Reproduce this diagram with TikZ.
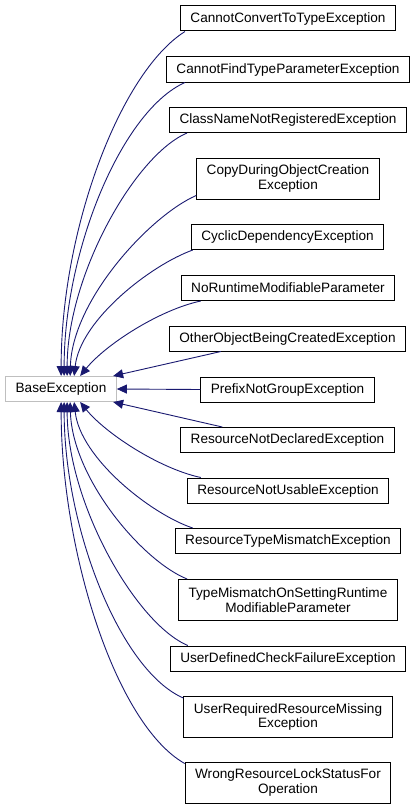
\documentclass[tikz,border=0pt]{standalone}
\usepackage{fontspec}
\setmainfont{Liberation Sans}
\usepackage{tikz}
\usetikzlibrary{arrows.meta}

\definecolor{edgeblue}{RGB}{25,25,112}
\definecolor{basegray}{RGB}{191,191,191}

\tikzset{
  cls/.style={draw=black, line width=1pt, fill=white, minimum height=25pt,
    inner xsep=10pt, inner ysep=2pt, align=center,
    font=\fontsize{13.6}{14.5}\selectfont},
  tall/.style={minimum height=41pt},
  basecls/.style={cls, draw=basegray},
  edge/.style={draw=edgeblue, line width=0.9pt,
    -{Triangle[length=10pt,width=9pt]}}
}

\begin{document}
\begin{tikzpicture}[x=1pt, y=-1pt]
    \useasboundingbox (0,0) rectangle (416,808);
    \draw (61,389) node[basecls] (base) {BaseException};
    \draw (288,18.5) node[cls] (cc) {CannotConvertToTypeException};
    \draw (288,69.5) node[cls] (cf) {CannotFindTypeParameterException};
    \draw (288,120) node[cls] (cn) {ClassNameNotRegisteredException};
    \draw (288,178.5) node[cls, tall] (cd) {CopyDuringObjectCreation\\Exception};
    \draw (287.5,237) node[cls] (cy) {CyclicDependencyException};
    \draw (288,288) node[cls] (nr) {NoRuntimeModifiableParameter};
    \draw (287.5,338.5) node[cls] (oo) {OtherObjectBeingCreatedException};
    \draw (287.5,389.5) node[cls] (pn) {PrefixNotGroupException};
    \draw (287.5,440) node[cls] (rd) {ResourceNotDeclaredException};
    \draw (288,490.5) node[cls] (ru) {ResourceNotUsableException};
    \draw (288,541) node[cls] (rt) {ResourceTypeMismatchException};
    \draw (288,600) node[cls, tall] (tm) {TypeMismatchOnSettingRuntime\\ModifiableParameter};
    \draw (288,658.5) node[cls] (ud) {UserDefinedCheckFailureException};
    \draw (288,717) node[cls, tall] (ur) {UserRequiredResourceMissing\\Exception};
    \draw (288,782.5) node[cls, tall] (wr) {WrongResourceLockStatusFor\\Operation};

    % upper children
    \draw[edge] ([xshift=5pt]cc.south west) .. controls +(-65,41) and +(0,-146) .. ([xshift=56pt]base.north west);
    \draw[edge] ([xshift=19pt]cf.south west) .. controls +(-63,28) and +(0,-126) .. ([xshift=59pt]base.north west);
    \draw[edge] ([xshift=18pt]cn.south west) .. controls +(-52,22) and +(0,-101) .. ([xshift=62pt]base.north west);
    \draw[edge] ([yshift=4pt]cd.south west) .. controls +(-46,20) and +(2,-76) .. ([xshift=65pt]base.north west);
    \draw[edge] ([xshift=2pt]cy.south west) .. controls +(-42,15) and +(6,-56) .. ([xshift=69pt]base.north west);
    \draw[edge] ([xshift=20pt]nr.south west) .. controls +(-42,9) and +(25,-31) .. ([xshift=75pt]base.north west);
    \draw[edge] ([xshift=52pt]oo.south west) -- ([xshift=108pt]base.north west);
    \draw[edge] (pn.west) -- (base.east);
    \draw[edge] ([xshift=42pt]rd.north west) -- ([xshift=108pt]base.south west);
    % lower children
    \draw[edge] ([xshift=14pt]ru.north west) .. controls +(-42,-9) and +(25,31) .. ([xshift=75pt]base.south west);
    \draw[edge] ([xshift=18pt]rt.north west) .. controls +(-42,-14) and +(6,56) .. ([xshift=69pt]base.south west);
    \draw[edge] ([xshift=9pt]tm.north west) .. controls +(-45,-18) and +(2,76) .. ([xshift=65pt]base.south west);
    \draw[edge] ([xshift=18pt]ud.north west) .. controls +(-52,-22) and +(0,101) .. ([xshift=62pt]base.south west);
    \draw[edge] ([yshift=-2pt]ur.north west) .. controls +(-63,-27) and +(0,126) .. ([xshift=59pt]base.south west);
    \draw[edge] ([yshift=-2pt]wr.north west) .. controls +(-70,-40) and +(0,147) .. ([xshift=56pt]base.south west);
  \end{tikzpicture}
\end{document}
